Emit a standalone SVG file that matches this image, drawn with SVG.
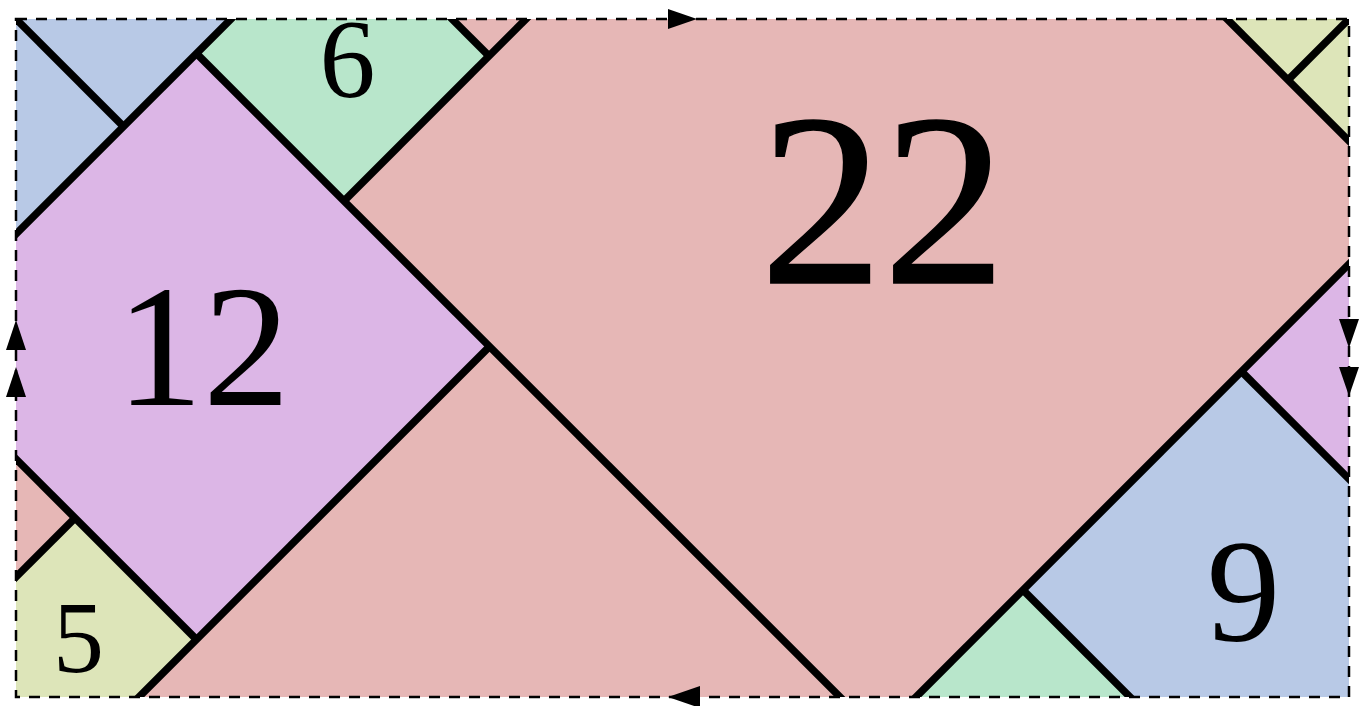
<svg xmlns="http://www.w3.org/2000/svg" width="1361" height="706" viewBox="0 0 1361 706">
<style>
.pink{fill:#e6b7b6}
.blue{fill:#b8c9e6}
.green{fill:#b8e6cb}
.purple{fill:#dcb6e6}
.yellow{fill:#dde5b9}
.lbl{font-family:"Liberation Serif","Times New Roman",serif;fill:#000;text-anchor:middle}
.edge{stroke:#000;stroke-width:7.5;stroke-linecap:butt;fill:none}
.border{fill:none;stroke:#000;stroke-width:2.5;stroke-dasharray:11 9}
.arrow{fill:#000}
</style>
<defs>
<clipPath id="frame"><rect x="16" y="19" width="1333" height="678"/></clipPath>
</defs>
<rect width="1361" height="706" fill="#ffffff"/>
<g id="square-22">
<rect class="pink" x="16" y="19" width="1333" height="678"/>
<text class="lbl" x="883" y="283" font-size="246" stroke="#000" stroke-width="1.5">22</text>
</g>
<g id="square-12">
<polygon class="purple" points="196.5,53.5 489.5,346.5 196.5,639.5 16,459 16,234"/>
<polygon class="purple" points="1241.5,371.5 1349,264 1349,479"/>
<text class="lbl" x="203" y="405" font-size="174">12</text>
</g>
<g id="square-9">
<polygon class="blue" points="16,19 231,19 16,234"/>
<polygon class="blue" points="1023,590 1241.5,371.5 1349,479 1349,697 1130,697"/>
<text class="lbl" x="1243.5" y="641" font-size="147">9</text>
</g>
<g id="square-6">
<polygon class="green" points="231,19 452,19 489,56 344,201 196.5,53.5"/>
<polygon class="green" points="916,697 1023,590 1130,697"/>
<text class="lbl" x="347.5" y="97" font-size="112">6</text>
</g>
<g id="square-5">
<polygon class="yellow" points="16,577 75,518 196.5,639.5 139,697 16,697"/>
<polygon class="yellow" points="1227,19 1349,19 1349,141"/>
<text class="lbl" x="78.5" y="672" font-size="102">5</text>
</g>
<g id="edges" clip-path="url(#frame)">
<line class="edge" x1="16" y1="19" x2="123.5" y2="126.5"/>
<line class="edge" x1="12" y1="238" x2="235" y2="15"/>
<line class="edge" x1="196.5" y1="53.5" x2="844" y2="701"/>
<line class="edge" x1="344" y1="201" x2="530" y2="15"/>
<line class="edge" x1="448" y1="15" x2="489" y2="56"/>
<line class="edge" x1="489.5" y1="346.5" x2="135" y2="701"/>
<line class="edge" x1="12" y1="455" x2="196.5" y2="639.5"/>
<line class="edge" x1="12" y1="581" x2="75" y2="518"/>
<line class="edge" x1="912" y1="701" x2="1353" y2="260"/>
<line class="edge" x1="1023" y1="590" x2="1134" y2="701"/>
<line class="edge" x1="1241.5" y1="371.5" x2="1353" y2="483"/>
<line class="edge" x1="1223" y1="15" x2="1353" y2="145"/>
<line class="edge" x1="1353" y1="15" x2="1288" y2="80"/>
</g>
<g id="boundary">
<rect class="border" x="16" y="19" width="1333" height="678"/>
<polygon class="arrow" points="668,9 697,19 668,29"/>
<polygon class="arrow" points="700,686 668,697 700,708"/>
<polygon class="arrow" points="16,320 6,350 26,350"/>
<polygon class="arrow" points="16,367 6,397 26,397"/>
<polygon class="arrow" points="1339,319 1359,319 1349,348"/>
<polygon class="arrow" points="1339,367 1359,367 1349,396"/>
</g>
</svg>
